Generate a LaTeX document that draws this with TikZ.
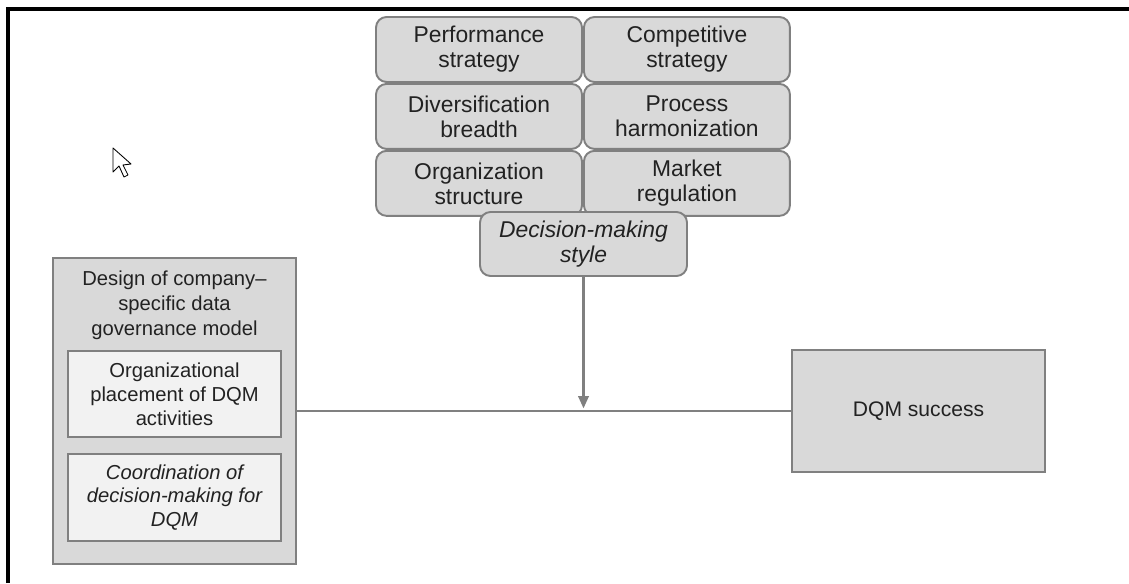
\documentclass[tikz,border=0pt]{standalone}
\usepackage{fontspec}
\setmainfont{Liberation Sans}
\usepackage{xcolor}
\usepackage{tikz}
\usetikzlibrary{arrows.meta, positioning}

\definecolor{boxgray}{HTML}{D9D9D9}
\definecolor{linegray}{HTML}{808080}
\definecolor{innergray}{HTML}{F2F2F2}
\definecolor{txtgray}{HTML}{222222}

\begin{document}
\begin{tikzpicture}[
    factor/.style={
        draw=linegray, line width=1.1pt,
        fill=boxgray,
        rounded corners=6pt,
        minimum width=4.12cm,
        minimum height=1.3cm,
        inner sep=0pt, align=center,
        text=txtgray,
        font=\fontsize{13}{14.2}\selectfont
    },
    outer/.style={
        draw=linegray, line width=1.1pt,
        fill=boxgray,
        minimum width=4.86cm,
        minimum height=6.12cm
    },
    inner/.style={
        draw=linegray, line width=1.1pt,
        fill=innergray,
        minimum width=4.26cm,
        minimum height=1.72cm,
        inner sep=0pt, align=center,
        text=txtgray,
        font=\fontsize{11.5}{13.6}\selectfont
    },
    link/.style={draw=linegray, line width=1.2pt},
    frame/.style={line width=0.08cm, black}
]
\useasboundingbox (0,0) rectangle (22.58,11.66);

% Screenshot frame (top and left only)
\draw[frame] (0.16,0) -- (0.16,11.48) -- (22.58,11.48);

% Mouse pointer
\draw[line width=0.5pt, fill=white, line join=round]
    (2.26,8.70) -- (2.26,8.22) -- (2.38,8.34) -- (2.48,8.12)
    -- (2.56,8.16) -- (2.46,8.36) -- (2.62,8.38) -- cycle;

% ------- Contingency factors (grid) -------
\node[factor] (perf) at (9.58,10.67) {Performance\\strategy};
\node[factor, right=0pt of perf] (comp) {Competitive\\strategy};
\node[factor, below=0pt of perf] (divers) {Diversification\\breadth};
\node[factor, below=0pt of comp] (harmon) {Process\\harmonization};
\node[factor, below=0pt of divers] (orgstruct) {Organization\\structure};
\node[factor, below=0pt of harmon] (regul) {Market\\regulation};

% Decision-making style (moderator)
\node[factor, minimum width=4.14cm, minimum height=1.28cm] (style)
    at (11.67,6.78) {\itshape Decision-making\\\itshape style};

% ------- Data governance model (left) -------
\node[outer] (design) at (3.49,3.44) {};
\node[text=txtgray, align=center, font=\fontsize{11.5}{14.2}\selectfont]
    (designtitle) at (3.49,5.56)
    {Design of company--\\specific data\\governance model};
\node[inner] (placement) at (3.49,3.78)
    {Organizational\\placement of DQM\\activities};
\node[inner, minimum height=1.74cm] (coord) at (3.49,1.71)
    {\itshape Coordination of\\\itshape decision-making for\\\itshape DQM};

% ------- Outcome -------
\node[draw=linegray, line width=1.1pt, fill=boxgray,
      minimum width=5.06cm, minimum height=2.44cm,
      text=txtgray, font=\fontsize{12}{14}\selectfont]
    (success) at (18.37,3.44) {DQM success};

% Connectors
\draw[link] (design.east) -- (success.west);
\coordinate (meet) at (style.south |- design.east);
\draw[link, -{Triangle[width=6pt, length=7pt]}]
    (style.south) -- ([yshift=1.5pt]meet);
\end{tikzpicture}
\end{document}
